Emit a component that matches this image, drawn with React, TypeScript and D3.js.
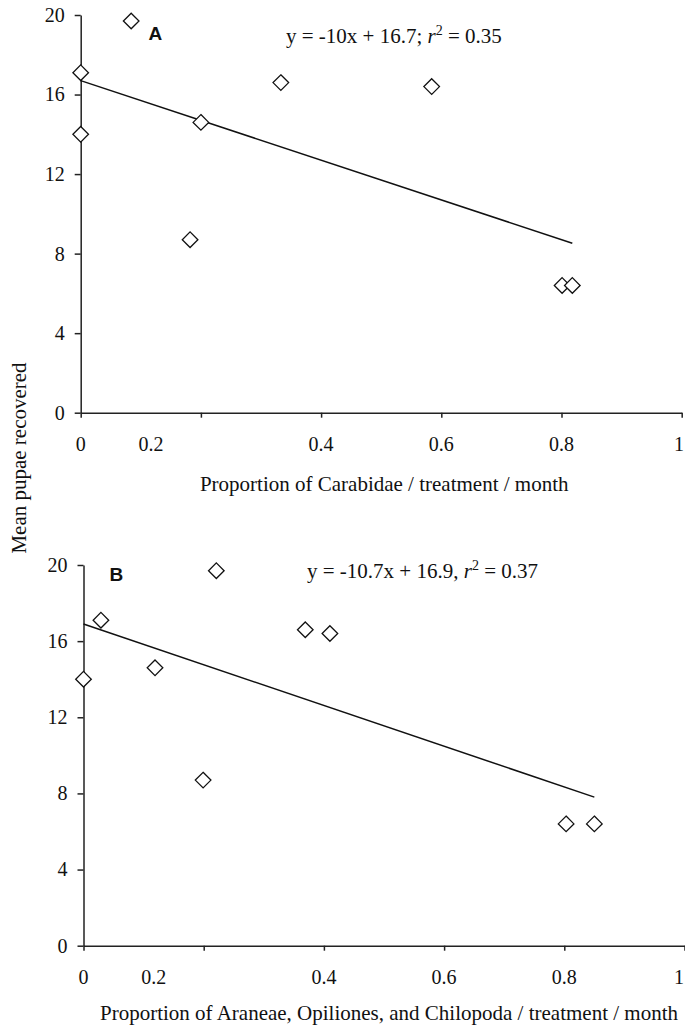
import { useEffect, useRef } from "react";
import * as d3 from "d3";

// Pupae recovered per plot (same for both panels)
const pupaeA = [19.7, 17.1, 14.0, 14.6, 16.6, 16.4, 8.7, 6.4, 6.4];
const carabidae = [0.084, 0, 0, 0.2, 0.333, 0.584, 0.182, 0.801, 0.818];

const pupaeB = [14.0, 17.1, 14.6, 19.7, 16.6, 16.4, 8.7, 6.4, 6.4];
const araneae = [0, 0.029, 0.119, 0.221, 0.369, 0.41, 0.199, 0.803, 0.85];

// Regression fits
const fitA = { slope: -10, intercept: 16.7 };
const fitB = { slope: -10.7, intercept: 16.9 };

const yTicks = [0, 4, 8, 12, 16, 20];
const xTicks = [0, 0.2, 0.4, 0.6, 0.8, 1];
// the original figure prints the "0.2" label left of its tick
const xTickLabels = [
  { at: 0, text: "0" },
  { at: 0.117, text: "0.2" },
  { at: 0.4, text: "0.4" },
  { at: 0.6, text: "0.6" },
  { at: 0.8, text: "0.8" },
  { at: 1, text: "1" },
];

const serif = "'Liberation Serif', 'Times New Roman', serif";
const sans = "'Liberation Sans', Arial, sans-serif";

interface Panel {
  xs: number[];
  ys: number[];
  fit: { slope: number; intercept: number };
  xRange: [number, number];
  yRange: [number, number];
  letter: string;
  letterPos: [number, number];
  eqPos: [number, number];
  eq: [string, string];
  title: string;
  titleY: number;
}

const panels: Panel[] = [
  {
    xs: carabidae,
    ys: pupaeA,
    fit: fitA,
    xRange: [80.7, 681.7],
    yRange: [412.7, 15],
    letter: "A",
    letterPos: [148.5, 40],
    eqPos: [286, 42.5],
    eq: ["y = -10x + 16.7; ", " = 0.35"],
    title: "Proportion of Carabidae / treatment / month",
    titleY: 490.7,
  },
  {
    xs: araneae,
    ys: pupaeB,
    fit: fitB,
    xRange: [83.5, 684.5],
    yRange: [945.7, 565],
    letter: "B",
    letterPos: [109.5, 580.7],
    eqPos: [307, 577.7],
    eq: ["y = -10.7x + 16.9, ", " = 0.37"],
    title: "Proportion of Araneae, Opiliones, and Chilopoda / treatment / month",
    titleY: 1020,
  },
];

export default function App() {
  const svgRef = useRef<SVGSVGElement>(null);

  useEffect(() => {
    if (!svgRef.current) return;
    const svg = d3.select(svgRef.current);
    svg.selectAll("*").remove();

    svg.append("rect").attr("width", 685).attr("height", 1027).attr("fill", "#fff");

    panels.forEach((p) => {
      const x = d3.scaleLinear().domain([0, 1]).range(p.xRange);
      const y = d3.scaleLinear().domain([0, 20]).range(p.yRange);
      const g = svg.append("g");

      // y axis
      const yAxis = g
        .append("g")
        .attr("transform", `translate(${p.xRange[0]},0)`)
        .call(
          d3
            .axisLeft(y)
            .tickValues(yTicks)
            .tickSize(6)
            .tickSizeOuter(0)
            .tickPadding(10)
            .tickFormat((d) => String(d))
        );
      yAxis.select(".domain").attr("stroke", "#222").attr("stroke-width", 1.5);
      yAxis.selectAll(".tick line").attr("stroke", "#222").attr("stroke-width", 1.5);
      yAxis
        .selectAll(".tick text")
        .attr("fill", "#111")
        .style("font-family", serif)
        .style("font-size", "20px");

      // x axis
      const xAxis = g
        .append("g")
        .attr("transform", `translate(0,${p.yRange[0]})`)
        .call(
          d3
            .axisBottom(x)
            .tickValues(xTicks)
            .tickSize(5)
            .tickSizeOuter(0)
            .tickFormat(() => "")
        );
      xAxis.select(".domain").attr("stroke", "#222").attr("stroke-width", 1.5);
      xAxis.selectAll(".tick line").attr("stroke", "#222").attr("stroke-width", 1.5);

      g.selectAll(null)
        .data(xTickLabels)
        .enter()
        .append("text")
        .attr("x", (d) => Math.min(x(d.at), 679))
        .attr("y", p.yRange[0] + 38.7)
        .attr("text-anchor", "middle")
        .attr("fill", "#111")
        .style("font-family", serif)
        .style("font-size", "20px")
        .text((d) => d.text);

      // regression line
      const xMax = d3.max(p.xs) as number;
      const fitPts: [number, number][] = [0, xMax].map((v) => [
        v,
        p.fit.slope * v + p.fit.intercept,
      ]);
      g.append("path")
        .datum(fitPts)
        .attr("fill", "none")
        .attr("stroke", "#111")
        .attr("stroke-width", 1.5)
        .attr(
          "d",
          d3
            .line<[number, number]>()
            .x((d) => x(d[0]))
            .y((d) => y(d[1]))
        );

      // points
      const pts = p.xs.map((v, i) => ({ x: v, y: p.ys[i] }));
      g.selectAll(null)
        .data(pts)
        .enter()
        .append("path")
        .attr("transform", (d) => `translate(${x(d.x)},${y(d.y)})`)
        .attr("d", "M0,-7.8L7.8,0L0,7.8L-7.8,0Z")
        .attr("fill", "#fff")
        .attr("stroke", "#111")
        .attr("stroke-width", 1.3);

      // panel letter
      g.append("text")
        .attr("x", p.letterPos[0])
        .attr("y", p.letterPos[1])
        .attr("fill", "#111")
        .style("font-family", sans)
        .style("font-weight", "bold")
        .style("font-size", "19px")
        .text(p.letter);

      // equation
      const eq = g
        .append("text")
        .attr("x", p.eqPos[0])
        .attr("y", p.eqPos[1])
        .attr("fill", "#111")
        .style("font-family", serif)
        .style("font-size", "21px");
      eq.append("tspan").text(p.eq[0]);
      eq.append("tspan").style("font-style", "italic").text("r");
      eq.append("tspan").attr("dy", -8).style("font-size", "14px").text("2");
      eq.append("tspan").attr("dy", 8).text(p.eq[1]);

      // x title
      g.append("text")
        .attr("x", (p.xRange[0] + p.xRange[1]) / 2 + (p.letter === "A" ? 3 : 5))
        .attr("y", p.titleY)
        .attr("text-anchor", "middle")
        .attr("fill", "#111")
        .style("font-family", serif)
        .style("font-size", "21px")
        .text(p.title);
    });

    // shared y title
    svg
      .append("text")
      .attr("transform", "translate(25.5,458) rotate(-90)")
      .attr("text-anchor", "middle")
      .attr("fill", "#111")
      .style("font-family", serif)
      .style("font-size", "21px")
      .text("Mean pupae recovered");
  }, []);

  return (
    <svg
      ref={svgRef}
      width={685}
      height={1027}
      style={{ position: "absolute", left: 0, top: 0 }}
    />
  );
}
